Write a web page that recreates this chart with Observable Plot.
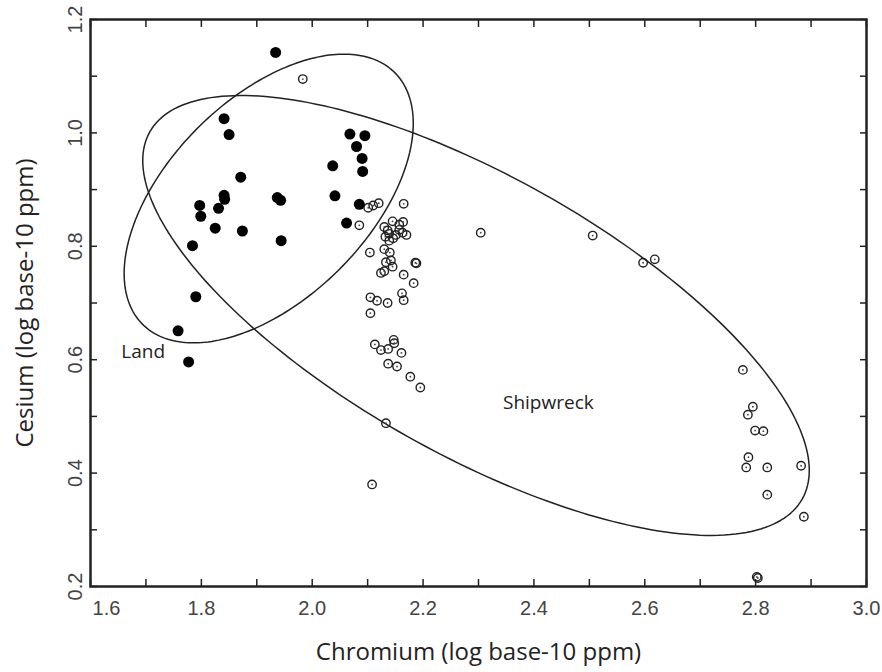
<!DOCTYPE html>
<html><head><meta charset="utf-8">
<script src="https://cdn.jsdelivr.net/npm/d3@7"></script>
<script src="https://cdn.jsdelivr.net/npm/@observablehq/plot@0.6"></script>
<style>body{margin:0;background:#fff}#chart svg{display:block;overflow:visible}</style>
</head><body><div id="chart"></div>
<script>
// Land samples (filled dots)
const landX = [1.934,1.841,1.850,1.871,1.841,1.842,1.831,1.797,1.799,1.825,1.874,1.784,1.790,1.758,1.777,1.937,1.943,1.944,2.068,2.095,2.080,2.090,2.091,2.037,2.041,2.085,2.062];
const landY = [1.142,1.025,0.997,0.922,0.890,0.883,0.867,0.872,0.853,0.832,0.827,0.801,0.711,0.651,0.596,0.886,0.881,0.810,0.998,0.995,0.976,0.955,0.932,0.942,0.889,0.874,0.841];
// Shipwreck samples (open dotted circles)
const shipX = [1.983,2.101,2.110,2.120,2.165,2.085,
  2.145,2.164,2.157,2.130,2.136,2.139,2.132,2.146,2.157,2.163,2.170,2.151,2.139,
  2.104,2.130,2.140,2.142,2.133,2.145,2.124,2.130,2.186,2.188,2.165,2.183,2.162,2.165,
  2.105,2.117,2.136,2.105,2.113,2.124,2.137,2.147,2.148,2.161,2.137,2.153,2.177,2.195,
  2.133,2.108,2.304,2.506,2.597,2.618,
  2.777,2.795,2.786,2.799,2.814,2.787,2.783,2.821,2.882,2.821,2.887,2.802,2.804];
const shipY = [1.095,0.868,0.872,0.876,0.875,0.837,
  0.844,0.843,0.838,0.834,0.828,0.822,0.817,0.814,0.829,0.824,0.820,0.820,0.810,
  0.789,0.795,0.789,0.775,0.772,0.764,0.753,0.756,0.771,0.770,0.750,0.735,0.717,0.705,
  0.710,0.704,0.700,0.682,0.627,0.617,0.619,0.635,0.629,0.612,0.593,0.588,0.570,0.551,
  0.488,0.380,0.824,0.819,0.771,0.777,
  0.582,0.517,0.503,0.475,0.474,0.428,0.410,0.410,0.413,0.362,0.323,0.217,0.215];

// Confidence ellipses: centre and two conjugate semi-axis vectors (data units)
const ellipseNames = ["Land", "Shipwreck"];
const ellipseCenterX = [1.9215, 2.2955];
const ellipseCenterY = [0.8843, 0.6780];
const ellipseAxisA = [[0.2274, 0.2220], [0.5885, -0.3238]];
const ellipseAxisB = [[0.1277, -0.1247], [-0.1232, -0.2136]];

// Group labels
const groupLabelText = ["Land", "Shipwreck"];
const groupLabelX = [1.695, 2.426];
const groupLabelY = [0.613, 0.523];

// Axes
const xTickLabels = [1.6, 1.8, 2.0, 2.2, 2.4, 2.6, 2.8, 3.0];
const xTicks = [1.6, 1.7, 1.8, 1.9, 2.0, 2.1, 2.2, 2.3, 2.4, 2.5, 2.6, 2.7, 2.8, 2.9, 3.0];
const yTickLabels = [0.2, 0.4, 0.6, 0.8, 1.0, 1.2];
const yTicks = [0.2, 0.3, 0.4, 0.5, 0.6, 0.7, 0.8, 0.9, 1.0, 1.1, 1.2];
const xTitle = "Chromium (log base-10 ppm)";
const yTitle = "Cesium (log base-10 ppm)";

const land = landX.map((x, i) => ({x, y: landY[i]}));
const ship = shipX.map((x, i) => ({x, y: shipY[i]}));
const ellipsePts = [];
ellipseNames.forEach((name, i) => {
  for (let k = 0; k <= 240; k++) {
    const t = 2 * Math.PI * k / 240;
    ellipsePts.push({
      name,
      x: ellipseCenterX[i] + ellipseAxisA[i][0] * Math.cos(t) + ellipseAxisB[i][0] * Math.sin(t),
      y: ellipseCenterY[i] + ellipseAxisA[i][1] * Math.cos(t) + ellipseAxisB[i][1] * Math.sin(t)
    });
  }
});
const labels = groupLabelText.map((t, i) => ({t, x: groupLabelX[i], y: groupLabelY[i]}));

const ink = "#222";
const tickFont = "'Liberation Sans', Arial, sans-serif";
const chart = Plot.plot({
  width: 882,
  height: 672,
  marginTop: 19,
  marginLeft: 90,
  marginRight: 16,
  marginBottom: 86,
  style: {background: "#fff", fontFamily: "'Open Sans', sans-serif"},
  x: {domain: [1.6, 3.0]},
  y: {domain: [0.2, 1.2]},
  marks: [
    Plot.line(ellipsePts, {x: "x", y: "y", z: "name", stroke: ink, strokeWidth: 1.5}),
    Plot.dot(ship, {x: "x", y: "y", r: 4.2, stroke: ink, strokeWidth: 1.4, fill: "none"}),
    Plot.dot(ship, {x: "x", y: "y", r: 0.9, fill: "#444", stroke: "none"}),
    Plot.dot(land, {x: "x", y: "y", r: 5.5, fill: "#000", stroke: "none"}),
    Plot.text(labels, {x: "x", y: "y", text: "t", fontSize: 19, fill: ink}),
    Plot.axisX(xTicks, {anchor: "bottom", tickSize: -7, tickFormat: () => "", label: null, stroke: ink, strokeWidth: 1.5}),
    Plot.axisX(xTicks, {anchor: "top", tickSize: -7, tickFormat: () => "", label: null, stroke: ink, strokeWidth: 1.5}),
    Plot.axisY(yTicks, {anchor: "left", tickSize: -7, tickFormat: () => "", label: null, stroke: ink, strokeWidth: 1.5}),
    Plot.axisY(yTicks, {anchor: "right", tickSize: -7, tickFormat: () => "", label: null, stroke: ink, strokeWidth: 1.5}),
    Plot.text(xTickLabels.slice(0, 1), {x: d => d, frameAnchor: "bottom", dy: 22, dx: 16, textAnchor: "middle", lineAnchor: "middle", text: d => d.toFixed(1), fontSize: 20, fill: "#444", fontFamily: tickFont}),
    Plot.text(xTickLabels.slice(1), {x: d => d, frameAnchor: "bottom", dy: 22, textAnchor: "middle", lineAnchor: "middle", text: d => d.toFixed(1), fontSize: 20, fill: "#444", fontFamily: tickFont}),
    Plot.text(yTickLabels, {y: d => d, frameAnchor: "left", dx: -15, rotate: -90, textAnchor: "middle", lineAnchor: "middle", text: d => d.toFixed(1), fontSize: 20, fill: "#444", fontFamily: tickFont}),
    Plot.text([xTitle], {frameAnchor: "bottom", dy: 66, textAnchor: "middle", lineAnchor: "middle", text: d => d, fontSize: 24, fill: ink}),
    Plot.text([yTitle], {frameAnchor: "left", dx: -65, rotate: -90, textAnchor: "middle", lineAnchor: "middle", text: d => d, fontSize: 24, fill: ink}),
    Plot.frame({stroke: ink, strokeWidth: 2.5})
  ]
});
document.getElementById("chart").appendChild(chart);
</script>
</body></html>
